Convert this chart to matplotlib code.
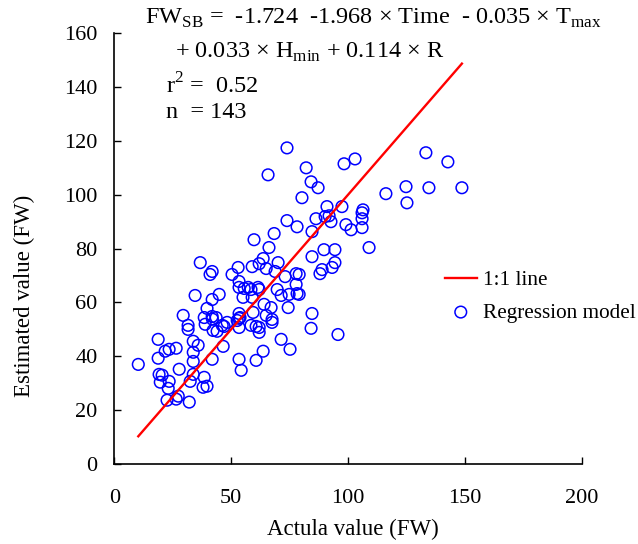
import numpy as np
import matplotlib
matplotlib.use("Agg")
import matplotlib.pyplot as plt

plt.rcParams['font.family'] = ['Liberation Serif', 'DejaVu Serif']
plt.rcParams['mathtext.fontset'] = 'custom'
plt.rcParams['mathtext.rm'] = 'Liberation Serif'

actual = [73.9, 133.3, 142.7, 98.3, 103.0, 82.1, 65.8, 84.2, 87.2, 124.8,
          134.6, 148.7, 116.2, 80.3, 125.2, 91.0, 97.4, 106.4, 106.0, 90.2,
          91.9, 86.3, 92.7, 106.0, 73.9, 78.2, 99.1, 101.3, 106.0, 84.6,
          68.4, 59.8, 66.2, 109.0, 89.7, 94.4, 84.6, 63.7, 70.1, 94.4,
          62.0, 59.0, 65.0, 93.2, 68.8, 88.9, 88.0, 73.1, 77.8, 79.1,
          77.8, 57.3, 61.5, 69.7, 79.1, 78.2, 74.8, 71.4, 84.6, 84.2,
          95.7, 36.8, 41.9, 41.0, 53.0, 50.4, 53.4, 53.4, 34.6, 44.9,
          41.9, 39.7, 55.6, 58.5, 62.0, 55.1, 59.0, 64.1, 67.1, 74.4,
          29.5, 31.6, 31.6, 18.8, 21.8, 23.5, 26.5, 18.8, 10.3, 27.8,
          19.2, 20.5, 19.7, 23.5, 23.1, 27.4, 26.5, 22.6, 32.1, 33.8,
          35.9, 33.8, 33.8, 33.8, 32.5, 38.5, 38.0, 39.7, 41.9, 46.6,
          38.5, 38.9, 41.9, 43.6, 42.3, 44.0, 46.2, 48.3, 47.0, 52.6,
          53.4, 53.8, 53.4, 59.4, 58.5, 60.7, 62.0, 62.0, 65.0, 67.5,
          67.5, 71.4, 75.2, 63.7, 53.4, 54.3, 60.7, 53.4, 42.0]
estimated = [117.4, 115.6, 112.2, 111.5, 113.3, 110.0, 107.4, 104.8, 102.6, 103.0,
             102.6, 102.6, 100.4, 98.9, 97.0, 95.6, 95.6, 94.4, 93.3, 91.9,
             92.2, 91.1, 90.0, 91.1, 90.4, 88.1, 88.9, 87.0, 87.8, 86.3,
             85.6, 83.3, 80.4, 80.4, 79.6, 79.6, 77.0, 76.3, 74.8, 74.8,
             74.4, 73.3, 72.6, 73.0, 71.5, 72.2, 70.7, 69.6, 70.7, 70.4,
             66.7, 65.6, 65.6, 64.8, 63.0, 63.3, 63.0, 62.6, 55.9, 50.4,
             48.1, 74.8, 71.5, 70.4, 73.0, 70.4, 67.8, 65.6, 62.6, 63.0,
             61.1, 57.8, 65.2, 64.8, 64.8, 61.9, 61.9, 59.3, 58.1, 58.1,
             55.2, 51.5, 50.0, 46.3, 41.9, 42.6, 43.0, 39.3, 37.0, 35.2,
             33.3, 33.0, 30.4, 30.7, 28.1, 25.2, 24.1, 23.7, 23.0, 45.6,
             44.1, 41.5, 38.1, 33.3, 30.7, 32.2, 28.5, 28.9, 38.9, 43.7,
             54.4, 51.9, 54.8, 54.4, 49.6, 49.3, 51.5, 52.6, 51.1, 53.3,
             55.9, 54.4, 50.7, 56.3, 51.5, 51.1, 50.7, 48.9, 55.2, 53.7,
             52.6, 46.3, 42.6, 41.9, 38.9, 34.8, 38.5, 54.1, 53.8]

xticks = [0, 50, 100, 150, 200]
yticks = [0, 20, 40, 60, 80, 100, 120, 140, 160]

fig = plt.figure(figsize=(6.38, 5.44), dpi=100)
ax = fig.add_axes([0.179, 0.147, 0.733, 0.792])

# 1:1 line across the range of the actual values
lo, hi = min(actual), max(actual)
ax.plot([lo, hi], [lo, hi], color='red', lw=1.7, label='1:1 line', zorder=3)
ax.scatter(actual, estimated, s=70, facecolors='none', edgecolors='blue',
           linewidths=1.1, label='Regression model', zorder=2)

ax.set_xlim(0, 200)
ax.set_ylim(0, 160)
ax.set_xticks(xticks)
ax.set_yticks(yticks)
ax.tick_params(direction='in', length=5, width=1, labelsize=16)
ax.tick_params(axis='x', pad=18)
ax.tick_params(axis='y', pad=12)
for s in ['top', 'right']:
    ax.spines[s].set_visible(False)
for s in ['left', 'bottom']:
    ax.spines[s].set_linewidth(1.2)

ax.set_xlabel('Actula value (FW)', fontsize=16.5)
ax.set_ylabel('Estimated value (FW)', fontsize=16.5)
ax.xaxis.set_label_coords(0.51, -0.128)
ax.yaxis.set_label_coords(-0.17, 0.39)

fs = 17.5
ax.text(0.066, 1.035, r'FW$_\mathregular{SB}$ =  -1.724  -1.968 × Time  - 0.035 × T$_\mathregular{max}$',
        transform=ax.transAxes, fontsize=fs, va='center', ha='left')
ax.text(0.13, 0.956, r'+ 0.033 × H$_\mathregular{min}$ + 0.114 × R',
        transform=ax.transAxes, fontsize=fs, va='center', ha='left')
ax.text(0.111, 0.877, r'r$^\mathregular{2}$ =  0.52', transform=ax.transAxes,
        fontsize=fs, va='center', ha='left')
ax.text(0.111, 0.815, 'n  = 143', transform=ax.transAxes,
        fontsize=fs, va='center', ha='left')

ax.legend(loc='upper left', bbox_to_anchor=(0.707, 0.45), frameon=False,
          borderaxespad=0, borderpad=0, fontsize=15.3, handlelength=1.5,
          handletextpad=0.3, labelspacing=0.6)

fig.savefig('out.png', dpi=100)
